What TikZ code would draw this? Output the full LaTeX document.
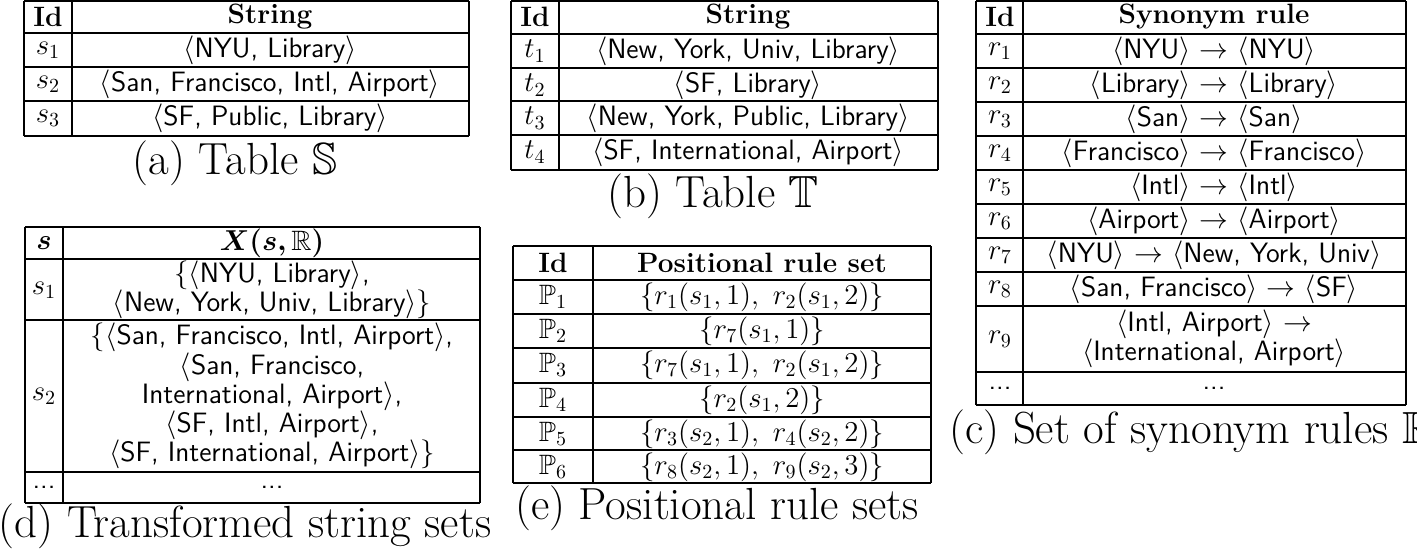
\documentclass[tikz,border=0pt]{standalone}
\usepackage{amssymb,amsmath,bm}
\begin{document}
\begin{tikzpicture}[x=0.5pt,y=-0.5pt,
  grid/.style={line width=1pt},
  cell/.style={font=\fontsize{14}{14.6}\selectfont\sffamily,inner sep=0pt,align=center},
  hd/.style={font=\fontsize{14}{15}\selectfont\bfseries,inner sep=0pt},
  captext/.style={font=\fontsize{22.5}{24}\selectfont,inner sep=0pt}]
\useasboundingbox (0,0) rectangle (1417,548);
\newcommand{\la}{$\langle$}\newcommand{\ra}{$\rangle$}
% ---- (a)
\foreach \y in {1,33,67,101,136} \draw[grid] (24,\y) -- (469,\y);
\foreach \x in {24,72,469} \draw[grid] (\x,1) -- (\x,136);
\node[hd] (ah1) at (48,17) {Id};
\node[hd] (ah2) at (270,17) {String};
\node[cell] (a1) at (48,50) {$s_1$};
\node[cell] (a1s) at (270,50) {\la NYU, Library\ra};
\node[cell] (a2) at (48,84) {$s_2$};
\node[cell] (a2s) at (270,84) {\la San, Francisco, Intl, Airport\ra};
\node[cell] (a3) at (48,118) {$s_3$};
\node[cell] (a3s) at (270,118) {\la SF, Public, Library\ra};
\node[captext] (acap) at (235,163) {(a) Table $\mathbb{S}$};
% ---- (b)
\foreach \y in {1,34,68,101,135,170} \draw[grid] (511,\y) -- (938,\y);
\foreach \x in {511,559,938} \draw[grid] (\x,1) -- (\x,170);
\node[hd] (bh1) at (535,17) {Id};
\node[hd] (bh2) at (748,17) {String};
\node[cell] (b1) at (535,51) {$t_1$};
\node[cell] (b1s) at (748,51) {\la New, York, Univ, Library\ra};
\node[cell] (b2) at (535,85) {$t_2$};
\node[cell] (b2s) at (748,85) {\la SF, Library\ra};
\node[cell] (b3) at (535,118) {$t_3$};
\node[cell] (b3s) at (748,118) {\la New, York, Public, Library\ra};
\node[cell] (b4) at (535,152) {$t_4$};
\node[cell] (b4s) at (748,152) {\la SF, International, Airport\ra};
\node[captext] (bcap) at (713,196) {(b) Table $\mathbb{T}$};
% ---- (c)
\foreach \y in {1,34,68,102,136,170,204,238,272,306,372,405} \draw[grid] (976,\y) -- (1406,\y);
\foreach \x in {976,1023,1406} \draw[grid] (\x,1) -- (\x,405);
\node[hd] (ch1) at (1000,17) {Id};
\node[hd] (ch2) at (1214,17) {Synonym rule};
\node[cell] (c1) at (1000,51) {$r_1$};
\node[cell] (c1s) at (1214,51) {\la NYU\ra\ $\rightarrow$ \la NYU\ra};
\node[cell] (c2) at (1000,85) {$r_2$};
\node[cell] (c2s) at (1214,85) {\la Library\ra\ $\rightarrow$ \la Library\ra};
\node[cell] (c3) at (1000,119) {$r_3$};
\node[cell] (c3s) at (1214,119) {\la San\ra\ $\rightarrow$ \la San\ra};
\node[cell] (c4) at (1000,153) {$r_4$};
\node[cell] (c4s) at (1214,153) {\la Francisco\ra\ $\rightarrow$ \la Francisco\ra};
\node[cell] (c5) at (1000,187) {$r_5$};
\node[cell] (c5s) at (1214,187) {\la Intl\ra\ $\rightarrow$ \la Intl\ra};
\node[cell] (c6) at (1000,221) {$r_6$};
\node[cell] (c6s) at (1214,221) {\la Airport\ra\ $\rightarrow$ \la Airport\ra};
\node[cell] (c7) at (1000,255) {$r_7$};
\node[cell] (c7s) at (1214,255) {\la NYU\ra\ $\rightarrow$ \la New, York, Univ\ra};
\node[cell] (c8) at (1000,289) {$r_8$};
\node[cell] (c8s) at (1214,289) {\la San, Francisco\ra\ $\rightarrow$ \la SF\ra};
\node[cell] (c9) at (1000,339) {$r_9$};
\node[cell] (c9s) at (1214,339) {\la Intl, Airport\ra\ $\rightarrow$\\\la International, Airport\ra};
\node[cell] (c10) at (1000,388) {...};
\node[cell] (c10s) at (1214,388) {...};
\node[captext] (ccap) at (1192,432) {(c) Set of synonym rules $\mathbb{R}$};
% ---- (d)
\foreach \y in {227,259,320,472,503} \draw[grid] (25,\y) -- (480,\y);
\foreach \x in {25,63,480} \draw[grid] (\x,227) -- (\x,503);
\node[hd] (dh1) at (44,243) {$\bm{s}$};
\node[hd] (dh2) at (272,243) {$\bm{X(s,}\mathbb{R}\bm{)}$};
\node[cell] (d1) at (44,290) {$s_1$};
\node[cell] (d1s) at (272,290) {$\{$\la NYU, Library\ra,\\\la New, York, Univ, Library\ra$\}$};
\node[cell] (d2) at (44,396) {$s_2$};
\node[cell] (d2s) at (272,396) {$\{$\la San, Francisco, Intl, Airport\ra,\\\la San, Francisco,\\International, Airport\ra,\\\la SF, Intl, Airport\ra,\\\la SF, International, Airport\ra$\}$};
\node[cell] (d3) at (44,487) {...};
\node[cell] (d3s) at (272,487) {...};
\node[captext] (dcap) at (245,526) {(d) Transformed string sets};
% ---- (e)
\foreach \y in {246,280,314,348,383,417,450,483} \draw[grid] (513,\y) -- (931,\y);
\foreach \x in {513,593,931} \draw[grid] (\x,246) -- (\x,483);
\node[hd] (eh1) at (553,263) {Id};
\node[hd] (eh2) at (762,263) {Positional rule set};
\node[cell] (e1) at (553,297) {$\mathbb{P}_1$};
\node[cell] (e1s) at (762,297) {$\{r_1(s_1,1),\ r_2(s_1,2)\}$};
\node[cell] (e2) at (553,331) {$\mathbb{P}_2$};
\node[cell] (e2s) at (762,331) {$\{r_7(s_1,1)\}$};
\node[cell] (e3) at (553,365) {$\mathbb{P}_3$};
\node[cell] (e3s) at (762,365) {$\{r_7(s_1,1),\ r_2(s_1,2)\}$};
\node[cell] (e4) at (553,400) {$\mathbb{P}_4$};
\node[cell] (e4s) at (762,400) {$\{r_2(s_1,2)\}$};
\node[cell] (e5) at (553,434) {$\mathbb{P}_5$};
\node[cell] (e5s) at (762,434) {$\{r_3(s_2,1),\ r_4(s_2,2)\}$};
\node[cell] (e6) at (553,467) {$\mathbb{P}_6$};
\node[cell] (e6s) at (762,467) {$\{r_8(s_2,1),\ r_9(s_2,3)\}$};
\node[captext] (ecap) at (717,508) {(e) Positional rule sets};
\end{tikzpicture}
\end{document}
